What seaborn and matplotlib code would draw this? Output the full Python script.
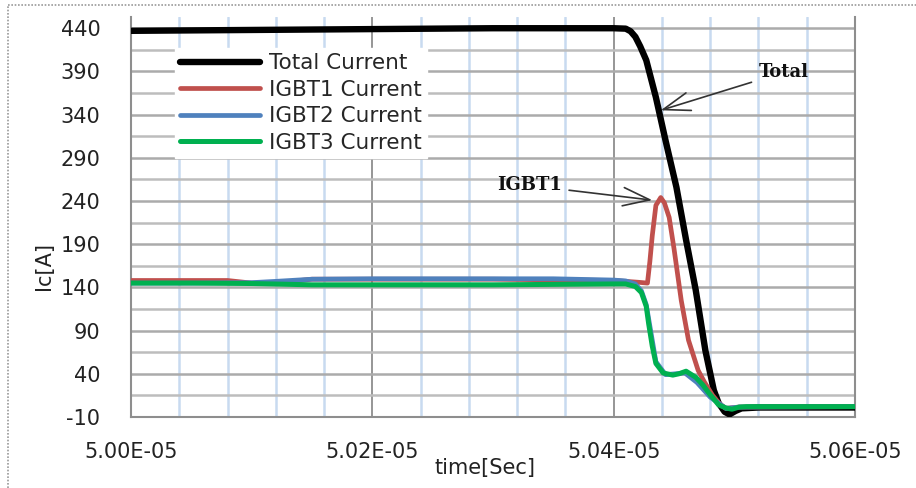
import matplotlib
matplotlib.use("Agg")
import matplotlib.pyplot as plt
import matplotlib.ticker as mticker
from matplotlib.lines import Line2D
import seaborn as sns

# ---------------- data ----------------
total_t = [5.0000e-05, 5.0100e-05, 5.0200e-05, 5.0300e-05, 5.0400e-05, 5.0410e-05,
           5.0414e-05, 5.0418e-05, 5.0422e-05, 5.0427e-05, 5.0435e-05, 5.0443e-05,
           5.0452e-05, 5.0460e-05, 5.0468e-05, 5.0476e-05, 5.0483e-05, 5.0487e-05,
           5.0492e-05, 5.0496e-05, 5.0501e-05, 5.0506e-05, 5.0520e-05, 5.0600e-05]
total_i = [437, 438, 439, 440, 440, 439.5,
           436.5, 430, 419, 403, 360, 310,
           256, 195, 137, 67, 21, 6,
           -4, -7, -3, 0, 1, 1]

igbt1_t = [5.0000e-05, 5.0050e-05, 5.0080e-05, 5.0100e-05, 5.0120e-05, 5.0150e-05,
           5.0300e-05, 5.0400e-05, 5.0420e-05, 5.0428e-05, 5.0430e-05, 5.0432e-05,
           5.0435e-05, 5.0439e-05, 5.0442e-05, 5.0446e-05, 5.0450e-05, 5.0456e-05,
           5.0462e-05, 5.0470e-05, 5.0475e-05, 5.0482e-05, 5.0488e-05, 5.0493e-05,
           5.0504e-05, 5.0600e-05]
igbt1_i = [148, 148, 148, 145, 145, 149.5,
           149.5, 148, 146, 145, 170, 200,
           235, 244, 238, 221, 185, 125,
           79, 44, 31, 15, 5, 0,
           1.5, 2]

igbt2_t = [5.0000e-05, 5.0050e-05, 5.0100e-05, 5.0120e-05, 5.0150e-05, 5.0200e-05,
           5.0300e-05, 5.0350e-05, 5.0400e-05, 5.0410e-05, 5.0418e-05, 5.0423e-05,
           5.0427e-05, 5.0435e-05, 5.0443e-05, 5.0459e-05, 5.0469e-05, 5.0480e-05,
           5.0493e-05, 5.0504e-05, 5.0600e-05]
igbt2_i = [145, 145, 145.5, 147, 149.5, 150,
           150, 150, 148.5, 147.5, 144, 136,
           120, 54, 39, 41, 30, 13,
           0, 1.5, 2]

igbt3_t = [5.0000e-05, 5.0050e-05, 5.0100e-05, 5.0150e-05, 5.0200e-05, 5.0250e-05,
           5.0300e-05, 5.0350e-05, 5.0400e-05, 5.0410e-05, 5.0418e-05, 5.0423e-05,
           5.0427e-05, 5.0429e-05, 5.0432e-05, 5.0435e-05, 5.0441e-05, 5.0449e-05,
           5.0454e-05, 5.0460e-05, 5.0468e-05, 5.0474e-05, 5.0479e-05, 5.0487e-05,
           5.0493e-05, 5.0498e-05, 5.0504e-05, 5.0510e-05, 5.0600e-05]
igbt3_i = [145, 145, 144.5, 143, 143, 143,
           143, 143.5, 144, 144, 141, 134,
           118, 98, 72, 52, 41, 38.5,
           40, 43, 36, 27, 17.5, 4,
           0.5, -1, 1.5, 2, 2]

series_names = ["Total Current", "IGBT1 Current", "IGBT2 Current", "IGBT3 Current"]
x_ticks = [5.00e-05, 5.02e-05, 5.04e-05, 5.06e-05]
y_ticks = [-10, 40, 90, 140, 190, 240, 290, 340, 390, 440]

# ---------------- styling ----------------
sns.set_style("white")
plt.rcParams["font.family"] = ["DejaVu Sans"]
plt.rcParams["axes.unicode_minus"] = False

W, H = 916, 488
fig = plt.figure(figsize=(W / 100, H / 100), dpi=100)
ax_left, ax_right, ax_top, ax_bot = 131, 855, 17, 417
ax = fig.add_axes([ax_left / W, 1 - ax_bot / H, (ax_right - ax_left) / W, (ax_bot - ax_top) / H])

colors = ["#000000", "#C0504D", "#4F81BD", "#00B050"]
widths = [4.6, 3.4, 3.4, 3.6]
data = [(total_t, total_i), (igbt1_t, igbt1_i), (igbt2_t, igbt2_i), (igbt3_t, igbt3_i)]
for (tt, ii), name, c, lw, z in zip(data, series_names, colors, widths, [3, 4, 5, 6]):
    sns.lineplot(x=tt, y=ii, ax=ax, color=c, lw=lw, label=name, sort=False,
                 zorder=z, solid_capstyle="round", solid_joinstyle="round")

ax.set_xlim(5.00e-05, 5.06e-05)
ax.set_ylim(-10, 453)
ax.set_xticks(x_ticks)
ax.set_xticks([5.00e-05 + i * 0.4e-07 for i in range(16)], minor=True)
ax.xaxis.set_major_formatter(mticker.FuncFormatter(lambda v, p: "%.2E" % v))
ax.set_yticks(y_ticks)
ax.set_yticks([15 + 50 * i for i in range(9)], minor=True)

ax.grid(which="major", axis="y", color="#ABABAB", lw=1.8, zorder=0)
ax.grid(which="minor", axis="y", color="#BDBDBD", lw=1.8, zorder=0)
ax.grid(which="minor", axis="x", color="#C8DAF0", lw=1.8, zorder=0)
ax.grid(which="major", axis="x", color="#8E8E8E", lw=1.3, zorder=1)
ax.set_axisbelow(True)

ax.tick_params(axis="both", which="both", length=0)
ax.tick_params(axis="y", pad=22, labelsize=15, labelcolor="#222222")
ax.tick_params(axis="x", pad=18, labelsize=15, labelcolor="#222222")

ax.spines["top"].set_visible(False)
for s in ["left", "bottom", "right"]:
    ax.spines[s].set_color("#8E8E8E")
    ax.spines[s].set_linewidth(1.5)

ax.set_xlabel("time[Sec]", fontsize=15, color="#222222")
ax.xaxis.label.set_va("center")
ax.xaxis.set_label_coords((485 - ax_left) / (ax_right - ax_left), (ax_bot - 468) / (ax_bot - ax_top))
ax.set_ylabel("Ic[A]", fontsize=15, color="#222222")
ax.yaxis.set_label_coords((54 - ax_left) / (ax_right - ax_left), (ax_bot - 266) / (ax_bot - ax_top))

leg = ax.legend(loc="upper left",
                bbox_to_anchor=((175 - ax_left) / (ax_right - ax_left), (ax_bot - 48) / (ax_bot - ax_top)),
                borderaxespad=0, frameon=True, fancybox=False, facecolor="white",
                edgecolor="white", framealpha=1, fontsize=15.5, handlelength=3.7,
                handletextpad=0.4, labelspacing=0.3, borderpad=0.25)
leg.set_zorder(10)
for h in leg.get_lines():
    h.set_solid_capstyle("round")

ann_kw = dict(fontsize=13, fontweight="bold", family="DejaVu Serif", color="#111111",
              ha="center", va="center", zorder=12)
ax.annotate("Total", xy=(5.0439e-05, 345), xytext=(5.0541e-05, 389),
            arrowprops=dict(arrowstyle="->,head_length=1.6,head_width=0.55", color="#333333",
                            lw=1.2, mutation_scale=12, shrinkA=3, shrinkB=0), **ann_kw)
ax.annotate("IGBT1", xy=(5.0432e-05, 241), xytext=(5.0330e-05, 258),
            arrowprops=dict(arrowstyle="->,head_length=1.6,head_width=0.55", color="#333333",
                            lw=1.2, mutation_scale=12, shrinkA=3, shrinkB=0), **ann_kw)

# dotted chart-area border (left and top)
fig.add_artist(Line2D([8 / W, 8 / W], [0, 1 - 5 / H], transform=fig.transFigure,
                      color="#9A9A9A", lw=1.2, ls=(0, (1, 1))))
fig.add_artist(Line2D([8 / W, 1], [1 - 5 / H, 1 - 5 / H], transform=fig.transFigure,
                      color="#9A9A9A", lw=1.2, ls=(0, (1, 1))))

fig.savefig("out.png", dpi=100, facecolor="white")
